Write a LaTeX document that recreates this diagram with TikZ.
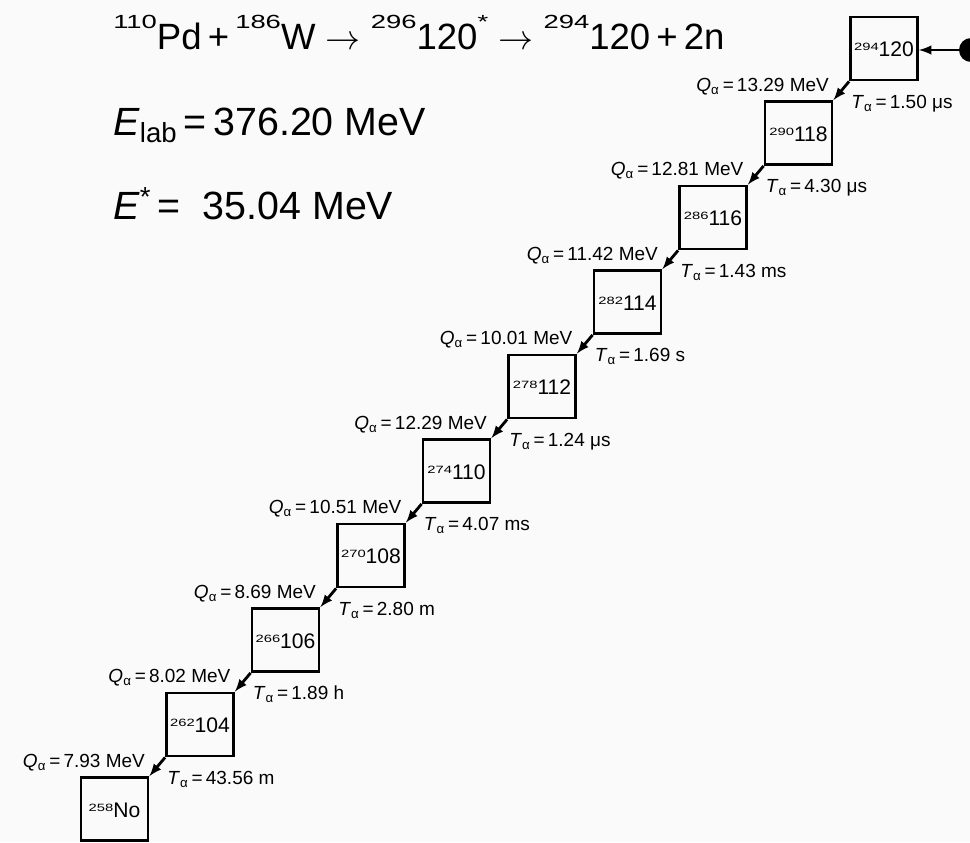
\documentclass[tikz,border=0pt]{standalone}
\usepackage{fontspec}
\setmainfont{Liberation Sans}
\usepackage{tikz}
\usetikzlibrary{arrows}
\usetikzlibrary{calc}

\newcommand{\nucl}[2]{\raisebox{0.3em}{\scalebox{0.7}[0.5]{#1}}#2}
\newcommand{\bigsup}[1]{\raisebox{0.55em}{\scalebox{0.75}[0.52]{#1}}}
\newcommand{\qval}[1]{\textit{Q}\textsubscript{α}\,=\,#1~MeV}
\newcommand{\tval}[1]{\textit{T}\textsubscript{α}\,=\,#1}

\begin{document}
\begin{tikzpicture}[x=0.025cm,y=-0.025cm]
    \tikzstyle{box}=[draw=black,line width=2pt,minimum width=1.675cm,minimum height=1.575cm,inner sep=0pt,text height=1.2em,text depth=0pt,font=\fontsize{15}{18}\selectfont]
    \tikzstyle{decay}=[draw=black,line width=2pt,-latex]
    \tikzstyle{qlab}=[anchor=base east,inner sep=0pt,font=\fontsize{13.5}{16}\selectfont]
    \tikzstyle{tlab}=[anchor=base west,inner sep=0pt,font=\fontsize{13.5}{16}\selectfont]
    \tikzstyle{head}=[anchor=base west,inner sep=0pt]

    \fill[black!2] (0,0) rectangle (970,842);
    \useasboundingbox (0,0) rectangle (970,842);

    % reaction and energies
    \node[head,font=\fontsize{26}{30}\selectfont] (reac) at (113,49)
        {\bigsup{110}Pd\,+\,\bigsup{186}W\ $\rightarrow$\ \bigsup{296}120\bigsup{*}\ $\rightarrow$\ \bigsup{294}120\,+\,2n};
    \node[head,font=\fontsize{28}{32}\selectfont] (elab) at (113,135)
        {\textit{E}\textsubscript{lab}\,=\,376.20 MeV};
    \node[head,font=\fontsize{28}{32}\selectfont] (estar) at (113,219)
        {\textit{E}\textsuperscript{*}\,= \ 35.04 MeV};

    % decay chain
    \node[box] (n120) at (884,48.5)  {\nucl{294}{120}};
    \node[box] (n118) at (798.5,133) {\nucl{290}{118}};
    \node[box] (n116) at (713,217.5) {\nucl{286}{116}};
    \node[box] (n114) at (627.5,302) {\nucl{282}{114}};
    \node[box] (n112) at (542,386.5) {\nucl{278}{112}};
    \node[box] (n110) at (456.5,471) {\nucl{274}{110}};
    \node[box] (n108) at (371,555.5) {\nucl{270}{108}};
    \node[box] (n106) at (285.5,640) {\nucl{266}{106}};
    \node[box] (n104) at (200,724.5) {\nucl{262}{104}};
    \node[box] (nNo)  at (114.5,809) {\nucl{258}{No}};

    \node[circle,fill=black,inner sep=0pt,minimum size=0.6cm] (beam) at (971,50) {};
    \path[decay] (beam.center) -- (beam.center -| n120.east);

    \path[decay] (n120.south west) -- (n118.north east);
    \path[decay] (n118.south west) -- (n116.north east);
    \path[decay] (n116.south west) -- (n114.north east);
    \path[decay] (n114.south west) -- (n112.north east);
    \path[decay] (n112.south west) -- (n110.north east);
    \path[decay] (n110.south west) -- (n108.north east);
    \path[decay] (n108.south west) -- (n106.north east);
    \path[decay] (n106.south west) -- (n104.north east);
    \path[decay] (n104.south west) -- (nNo.north east);

    \node[qlab] (q120) at ($(n120.south west)+(-20,10)$) {\qval{13.29}};
    \node[qlab] (q118) at ($(n118.south west)+(-20,10)$) {\qval{12.81}};
    \node[qlab] (q116) at ($(n116.south west)+(-20,10)$) {\qval{11.42}};
    \node[qlab] (q114) at ($(n114.south west)+(-20,10)$) {\qval{10.01}};
    \node[qlab] (q112) at ($(n112.south west)+(-20,10)$) {\qval{12.29}};
    \node[qlab] (q110) at ($(n110.south west)+(-20,10)$) {\qval{10.51}};
    \node[qlab] (q108) at ($(n108.south west)+(-20,10)$) {\qval{8.69}};
    \node[qlab] (q106) at ($(n106.south west)+(-20,10)$) {\qval{8.02}};
    \node[qlab] (q104) at ($(n104.south west)+(-20,10)$) {\qval{7.93}};

    \node[tlab] (t120) at ($(n120.south west)+(2,27)$) {\tval{1.50 μs}};
    \node[tlab] (t118) at ($(n118.south west)+(2,27)$) {\tval{4.30 μs}};
    \node[tlab] (t116) at ($(n116.south west)+(2,27)$) {\tval{1.43 ms}};
    \node[tlab] (t114) at ($(n114.south west)+(2,27)$) {\tval{1.69 s}};
    \node[tlab] (t112) at ($(n112.south west)+(2,27)$) {\tval{1.24 μs}};
    \node[tlab] (t110) at ($(n110.south west)+(2,27)$) {\tval{4.07 ms}};
    \node[tlab] (t108) at ($(n108.south west)+(2,27)$) {\tval{2.80 m}};
    \node[tlab] (t106) at ($(n106.south west)+(2,27)$) {\tval{1.89 h}};
    \node[tlab] (t104) at ($(n104.south west)+(2,27)$) {\tval{43.56 m}};
\end{tikzpicture}
\end{document}
